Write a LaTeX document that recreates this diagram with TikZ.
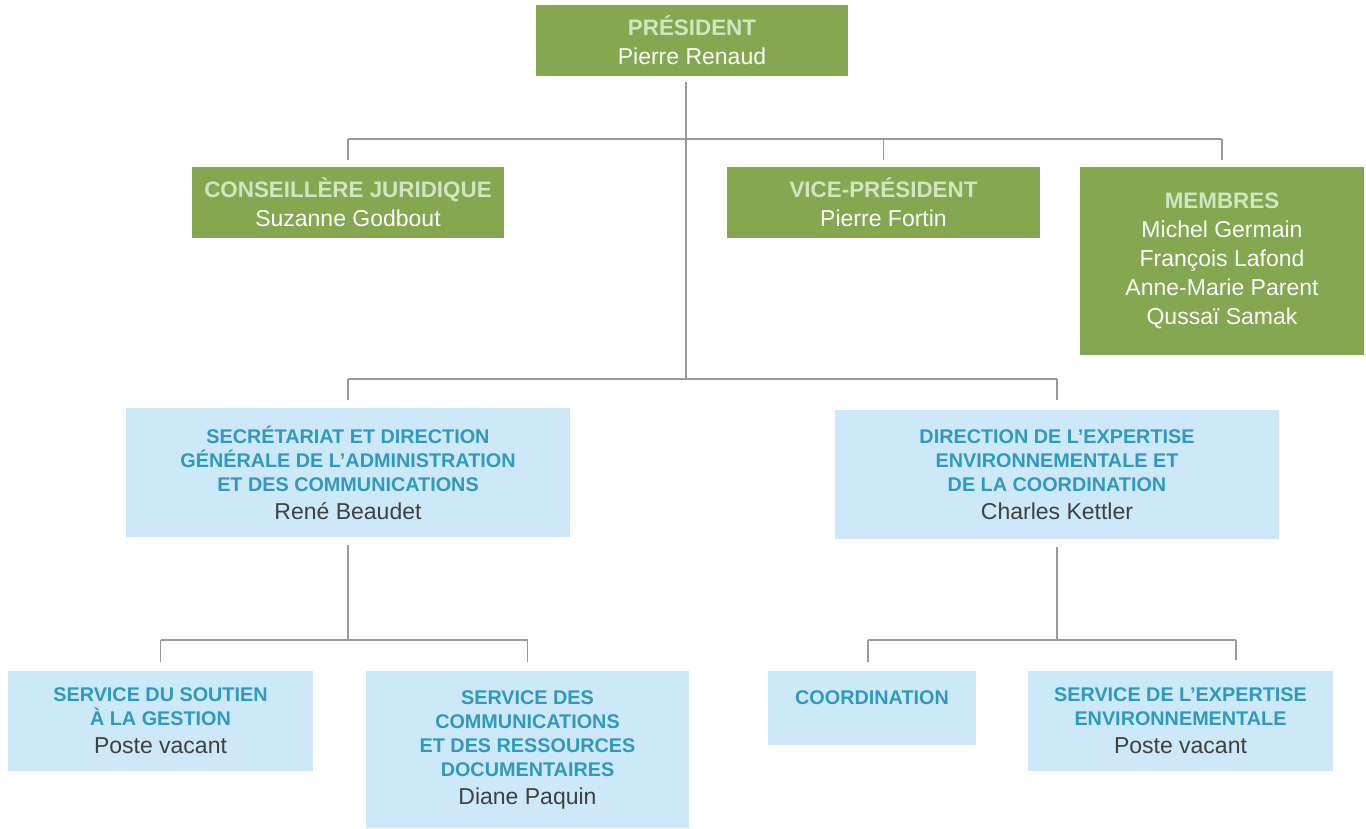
\documentclass[tikz,border=0pt]{standalone}
\usepackage{fontspec}
\setmainfont{Liberation Sans}
\usepackage{tikz}

\definecolor{leafgreen}{HTML}{84A850}
\definecolor{palegreen}{HTML}{D2E5C2}
\definecolor{skyblue}{HTML}{CDE8F8}
\definecolor{deptblue}{HTML}{2E9AC0}
\definecolor{namegray}{HTML}{404040}
\definecolor{linegray}{HTML}{979B9E}

\newcommand{\boardtitle}[1]{{\fontsize{22.4}{29}\selectfont\color{palegreen}\bfseries #1}}
\newcommand{\unittitle}[1]{{\color{deptblue}\bfseries #1}}
\newcommand{\unitname}[1]{{\fontsize{23}{24}\selectfont #1}}

\begin{document}
\begin{tikzpicture}[
                    x=1pt, y=-1pt,
                    every node/.style={
                        inner sep=0pt,
                        align=center
                    },
                    board/.style={
                        fill=leafgreen,
                        text=white,
                        font=\fontsize{23}{29}\selectfont
                    },
                    unit/.style={
                        fill=skyblue,
                        text=namegray,
                        font=\fontsize{19.8}{24}\selectfont
                    },
                    link/.style={draw=linegray, line width=1.6pt}
                ]
                    \useasboundingbox (0,0) rectangle (1366,828);

                    % Board
                    \node[board, minimum width=312pt, minimum height=71pt] (pres) at (692,40.5)
                        {\boardtitle{PRÉSIDENT}\\Pierre Renaud};
                    \node[board, minimum width=312pt, minimum height=71pt] (cons) at (348,202.5)
                        {\boardtitle{CONSEILLÈRE JURIDIQUE}\\Suzanne Godbout};
                    \node[board, minimum width=313pt, minimum height=71pt] (vice) at (883.5,202.5)
                        {\boardtitle{VICE-PRÉSIDENT}\\Pierre Fortin};
                    \node[board, minimum width=284pt, minimum height=188pt] (memb) at (1222,261)
                        {\boardtitle{MEMBRES}\\Michel Germain\\François Lafond\\Anne-Marie Parent\\Qussaï Samak};

                    % Directions
                    \node[unit, minimum width=444pt, minimum height=129pt] (secr) at (348,472.5)
                        {\unittitle{SECRÉTARIAT ET DIRECTION}\\\unittitle{GÉNÉRALE DE L’ADMINISTRATION}\\\unittitle{ET DES COMMUNICATIONS}\\[4pt]\unitname{René Beaudet}};
                    \node[unit, minimum width=444pt, minimum height=129pt] (dir) at (1057,474.5)
                        {\unittitle{DIRECTION DE L’EXPERTISE}\\\unittitle{ENVIRONNEMENTALE ET}\\\unittitle{DE LA COORDINATION}\\[4pt]\unitname{Charles Kettler}};

                    % Services
                    \node[unit, minimum width=305pt, minimum height=100pt] (sout) at (160.5,721)
                        {\unittitle{SERVICE DU SOUTIEN}\\\unittitle{À LA GESTION}\\[4pt]\unitname{Poste vacant}};
                    \node[unit, minimum width=323pt, minimum height=157pt] (comm) at (527.5,749.5)
                        {\unittitle{SERVICE DES}\\\unittitle{COMMUNICATIONS}\\\unittitle{ET DES RESSOURCES}\\\unittitle{DOCUMENTAIRES}\\[4pt]\unitname{Diane Paquin}};
                    \node[unit, minimum width=208pt, minimum height=74pt, text depth=20pt] (coord) at (872,708)
                        {\unittitle{COORDINATION}};
                    \node[unit, minimum width=305pt, minimum height=100pt] (expe) at (1180.5,721)
                        {\unittitle{SERVICE DE L’EXPERTISE}\\\unittitle{ENVIRONNEMENTALE}\\[4pt]\unitname{Poste vacant}};

                    % Edges
                    \coordinate (busA) at (0,139);
                    \coordinate (busB) at (0,379);
                    \coordinate (busC) at (0,640);
                    \coordinate (expedrop) at (1236,660);

                    \draw[link] ([xshift=-6pt, yshift=-6pt]pres.south) -- ([xshift=-6pt]pres.south |- busB);
                    \draw[link] (cons.north |- busA) -- (memb.north |- busA);
                    \foreach \n in {cons,vice,memb}
                        \draw[link] (\n.north |- busA) -- ([yshift=7pt]\n.north);
                    \draw[link] (secr.north |- busB) -- (dir.north |- busB);
                    \draw[link] (secr.north |- busB) -- ([yshift=8pt]secr.north);
                    \draw[link] (dir.north |- busB) -- ([yshift=10pt]dir.north);

                    \draw[link] ([yshift=-8pt]secr.south) -- (secr.south |- busC);
                    \draw[link] (sout.north |- busC) -- (comm.north |- busC);
                    \foreach \n in {sout,comm}
                        \draw[link] (\n.north |- busC) -- ([yshift=9pt]\n.north);

                    \draw[link] ([yshift=-8pt]dir.south) -- (dir.south |- busC);
                    \draw[link] ([xshift=-4pt]coord.north |- busC) -- (expedrop |- busC);
                    \draw[link] ([xshift=-4pt]coord.north |- busC) -- ([xshift=-4pt, yshift=9pt]coord.north);
                    \draw[link] (expedrop |- busC) -- (expedrop);
                \end{tikzpicture}
\end{document}
